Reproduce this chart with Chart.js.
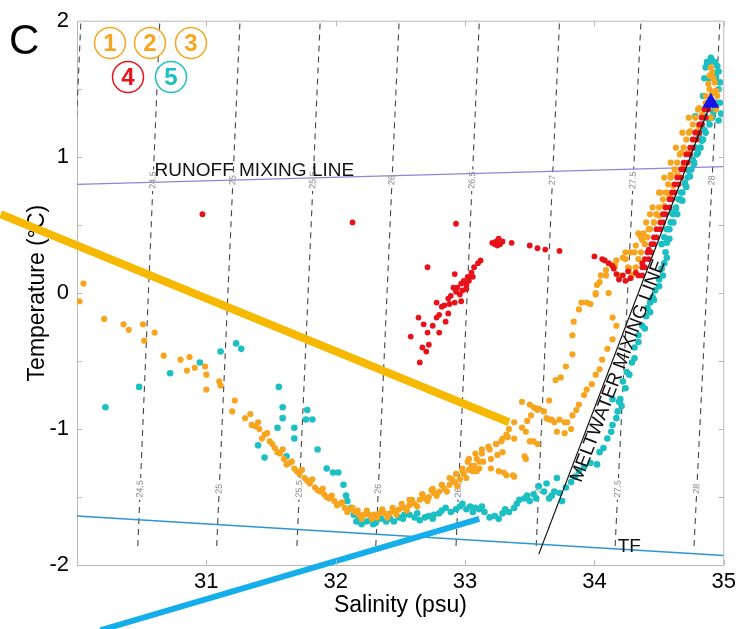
<!DOCTYPE html>
<html>
<head>
<meta charset="utf-8">
<script src="https://cdn.jsdelivr.net/npm/chart.js@4.4.1/dist/chart.umd.min.js"></script>
<style>
  html, body { margin: 0; background: #fff; }
  #wrap { width: 740px; height: 629px; }
</style>
</head>
<body>
<div id="wrap"><canvas id="tsChart"></canvas></div>
<script>
// Axis ticks
const xTicks = [30, 31, 32, 33, 34, 35];
const yTicks = [-2, -1, 0, 1, 2];

// Isopycnals (sigma-theta), salinity where each line meets the bottom / top of the grid
const sigmaLevels     = ['24', '24.5', '25', '25.5', '26', '26.5', '27', '27.5', '28'];
const sigmaSalBottom  = [29.85, 30.47, 31.08, 31.70, 32.31, 32.93, 33.55, 34.16, 34.77];
const sigmaSalTop     = [30.03, 30.64, 31.26, 31.88, 32.49, 33.11, 33.73, 34.36, 34.97];
const sigmaTempBottom = -1.86;
const sigmaTempTop    = 2;
const sigmaLabelTemps = [-1.44, 0.83];

// Reference lines [salinity, temperature]
const runoffLine    = [[30, 0.80], [35, 0.93]];
const freezingLine  = [[30, -1.64], [35, -1.93]];
const meltwaterLine = [[33.57, -1.92], [34.90, 1.40]];
const sourceWater   = [[34.90, 1.40]];

// Highlight strokes laid over the figure
const highlightOrange = [[29.41, 0.58], [33.34, -0.95]];
const highlightBlue   = [[30.18, -2.48], [33.11, -1.66]];

// Stations 1-3 (orange)
const stations123 = [
  [30.05,0.07],[30.02,-0.06],[30.21,-0.19],[30.36,-0.23],[30.40,-0.27],[30.51,-0.23],[30.52,-0.35],[30.60,-0.29],
  [30.67,-0.46],[30.80,-0.49],[30.87,-0.47],[30.85,-0.57],[30.91,-0.55],[30.99,-0.54],[31.00,-0.60],[31.00,-0.71],
  [31.10,-0.65],[31.11,-0.68],[31.22,-0.79],[31.20,-0.87],[31.30,-0.92],[31.34,-0.89],[31.35,-0.97],[31.40,-0.95],
  [31.41,-1.00],[31.45,-1.04],[31.49,-1.09],[31.53,-1.14],[31.57,-1.18],[31.60,-1.22],[31.64,-1.25],[31.68,-1.29],
  [31.72,-1.33],[31.76,-1.36],[31.80,-1.40],[31.84,-1.43],[31.88,-1.46],[31.91,-1.48],[31.95,-1.51],[31.99,-1.53],
  [32.03,-1.55],[32.07,-1.58],[32.11,-1.59],[32.15,-1.61],[32.18,-1.63],[32.22,-1.63],[32.26,-1.63],[32.30,-1.63],
  [32.34,-1.62],[32.38,-1.62],[32.42,-1.62],[32.45,-1.60],[32.49,-1.59],[32.53,-1.58],[32.57,-1.56],[32.61,-1.55],
  [32.65,-1.52],[32.69,-1.51],[32.72,-1.50],[32.76,-1.47],[32.80,-1.46],[32.84,-1.44],[32.88,-1.41],[32.92,-1.39],
  [32.96,-1.37],[32.99,-1.33],[33.03,-1.30],[33.07,-1.27],[33.11,-1.24],
  [31.38,-0.98],[31.43,-1.07],[31.47,-1.03],[31.51,-1.11],[31.55,-1.17],[31.59,-1.15],[31.62,-1.26],[31.66,-1.24],
  [31.70,-1.31],[31.74,-1.30],[31.78,-1.38],[31.82,-1.37],[31.86,-1.45],[31.90,-1.44],[31.93,-1.50],[31.97,-1.49],
  [32.01,-1.56],[32.05,-1.54],[32.09,-1.61],[32.13,-1.58],[32.17,-1.60],[32.20,-1.66],[32.24,-1.60],[32.28,-1.66],
  [32.32,-1.65],[32.36,-1.59],[32.40,-1.65],[32.44,-1.58],[32.47,-1.63],[32.51,-1.55],[32.55,-1.60],[32.59,-1.52],
  [32.63,-1.57],[32.67,-1.48],[32.71,-1.53],[32.74,-1.45],[32.78,-1.49],[32.82,-1.41],[32.86,-1.46],[32.90,-1.37],
  [32.94,-1.42],[32.98,-1.31],[33.01,-1.36],[33.05,-1.27],[33.09,-1.31],
  [32.57,-1.52],[32.67,-1.48],[32.75,-1.44],[32.82,-1.41],[32.88,-1.36],[32.93,-1.33],[32.98,-1.29],[33.02,-1.24],
  [33.09,-1.22],[33.13,-1.18],[33.19,-1.15],[33.24,-1.11],[33.28,-1.09],[33.32,-1.04],[33.34,-1.00],[33.38,-0.95],
  [33.44,-0.80],[33.50,-0.82],[33.53,-0.84],[33.56,-0.86],
  [33.57,-0.85],[33.63,-0.92],[33.67,-0.93],[33.73,-0.93],[33.77,-0.95],[33.82,-1.00],
  [33.65,-0.79],[33.70,-0.64],[33.74,-0.62],[33.78,-0.54],[33.83,-0.45],[33.83,-0.31],[33.84,-0.21],[33.88,-0.12],
  [33.90,-0.07],[33.94,-0.07],[33.97,-0.08],[34.01,-0.01],[34.02,0.06],[34.05,0.13],[34.09,0.17],[34.13,0.21],
  [34.17,0.24],[34.22,0.26],
  [34.14,-0.18],[34.17,-0.24],[34.14,-0.34],[34.10,-0.41],[34.06,-0.49],[34.04,-0.56],[34.01,-0.60],[33.98,-0.67],
  [33.94,-0.71],[33.92,-0.75],[33.88,-0.82],[33.86,-0.86],[33.83,-0.90],[33.79,-0.95],
  [33.44,-0.99],[33.48,-0.94],[33.51,-0.90],[33.55,-0.85],[33.61,-0.87],[33.65,-0.93],[33.69,-0.95],[33.50,-1.09],
  [33.53,-1.09],[33.56,-1.11],[33.71,-1.02],[33.77,-1.03],[33.38,-1.35],[33.30,-1.32],[33.47,-1.22],[33.38,-1.07],
  [33.47,-1.02],[33.51,-1.09],[33.46,-1.20],[33.37,-1.34],
  [33.03,-1.22],[33.08,-1.18],[33.13,-1.15],[33.18,-1.13],[33.24,-1.11],[33.29,-1.07],[33.33,-1.06],
  [33.06,-1.31],[33.11,-1.29],[33.14,-1.24],[33.20,-1.22],[33.25,-1.19],[33.29,-1.17],
  [33.20,-1.29],[33.26,-1.31],[33.32,-1.34],
  [34.01,0.00],[34.04,0.08],[34.09,0.13],[34.11,0.00],[34.16,0.20],[34.19,0.13],[34.24,0.25],[34.27,0.18],
  [34.32,0.35],[34.37,0.39],[34.42,0.47],[34.46,0.52],[34.50,0.57],[34.54,0.64],[34.58,0.71],[34.61,0.79],
  [34.65,0.86],[34.69,0.94],[34.73,1.03],[34.77,1.13],[34.81,1.23],[34.83,1.31],[34.86,1.40],[34.88,1.54],
  [34.91,1.62],[34.94,1.49],[34.92,1.40],[34.90,1.29],
  [34.24,0.30],[34.34,0.44],[34.43,0.58],[34.51,0.74],[34.59,0.87],[34.67,1.03],[34.74,1.19],[34.81,1.36],
  [34.28,0.30],[34.38,0.44],[34.48,0.58],[34.56,0.74],[34.64,0.87],[34.72,1.03],[34.79,1.19],
  [34.29,0.13],[34.32,0.19],[34.34,0.25],[34.36,0.30],[34.39,0.36],[34.41,0.41],[34.43,0.47],[34.46,0.52],
  [34.48,0.58],[34.50,0.63],[34.53,0.69],[34.55,0.74],[34.57,0.80],[34.59,0.85],[34.62,0.91],[34.64,0.96],
  [34.66,1.02],[34.69,1.07],[34.71,1.13],[34.73,1.18],[34.76,1.24],[34.78,1.29],[34.80,1.35],
  [34.26,0.19],[34.31,0.30],[34.36,0.41],[34.40,0.52],[34.45,0.63],[34.50,0.74],[34.54,0.85],[34.59,0.96],
  [34.63,1.07],[34.68,1.18],[34.73,1.29],
  [34.86,1.45],[34.89,1.50],[34.93,1.55],[34.90,1.66],[34.92,1.58],[34.95,1.45],[34.87,1.36],[34.94,1.35],
  [34.89,1.60],[34.91,1.47]
];

// Station 4 (red)
const station4 = [
  [30.97,0.58],[32.13,0.52],[32.93,0.51],[32.71,0.19],[32.92,0.14],[32.64,-0.18],[32.58,-0.32],[32.65,-0.51],
  [32.70,-0.43],[32.72,-0.38],[32.78,-0.07],[32.78,-0.18],[32.75,-0.24],[32.71,-0.29],[32.85,-0.21],[32.87,-0.15],
  [32.84,-0.09],[32.88,-0.08],[32.92,-0.07],[32.89,-0.02],[32.93,0.01],[32.97,-0.06],[32.94,0.04],[32.97,0.07],
  [32.99,0.09],[33.02,0.12],[33.05,0.15],[33.07,0.19],[33.10,0.22],[33.12,0.24],[32.98,0.02],[33.01,0.06],
  [33.03,0.09],[33.06,0.12],[32.96,-0.01],[33.01,0.03],[32.91,0.04],[32.87,-0.04],[32.82,-0.10],[32.80,-0.16],
  [32.68,-0.23],[32.80,-0.29],[32.67,-0.40],
  [33.21,0.37],[33.24,0.38],[33.26,0.40],[33.29,0.38],[33.25,0.35],[33.23,0.36],[33.27,0.36],[33.36,0.37],
  [33.50,0.35],[33.56,0.33],[33.62,0.32],[33.73,0.31],
  [34.00,0.27],[34.06,0.25],[34.08,0.24],[34.11,0.22],[34.14,0.20],[34.15,0.18],[34.19,0.10],[34.22,0.13],
  [34.24,0.09],[34.28,0.11],[34.32,0.15],[34.37,0.22],[34.42,0.32],[34.17,0.14],[34.26,0.16],
  [34.34,0.13],[34.37,0.19],[34.39,0.25],[34.41,0.30],[34.44,0.36],[34.46,0.41],[34.48,0.47],[34.51,0.52],
  [34.53,0.58],[34.55,0.63],[34.58,0.69],[34.60,0.74],[34.62,0.80],[34.64,0.85],[34.67,0.91],[34.69,0.96],
  [34.71,1.02],[34.74,1.07],[34.76,1.13],[34.78,1.18],[34.81,1.24],[34.83,1.29],[34.85,1.35],
  [34.37,0.13],[34.39,0.19],[34.42,0.25],[34.44,0.30],[34.46,0.36],[34.48,0.41],[34.51,0.47],[34.53,0.52],
  [34.55,0.58],[34.58,0.63],[34.60,0.69],[34.62,0.74],[34.65,0.80],[34.67,0.85],[34.69,0.91],[34.72,0.96],
  [34.74,1.02],[34.76,1.07],[34.79,1.13],[34.81,1.18],[34.83,1.24],[34.86,1.29],[34.88,1.35]
];

// Station 5 (cyan)
const station5 = [
  [30.22,-0.84],[30.48,-0.69],[30.72,-0.59],[30.95,-0.51],[31.11,-0.43],[31.23,-0.37],[31.27,-0.41],[31.56,-0.69],
  [31.59,-0.84],[31.59,-0.92],[31.55,-0.99],[31.68,-0.99],[31.68,-1.07],[31.40,-1.12],[31.45,-1.21],[31.78,-0.86],
  [31.77,-0.93],[31.82,-0.93],[31.86,-1.15],[31.62,-1.20],[31.93,-1.29],[31.98,-1.32],[32.02,-1.32],[32.06,-1.41],
  [32.08,-1.49],[32.09,-1.53],[32.12,-1.58],[32.14,-1.63],[32.16,-1.68],[32.18,-1.65],[32.24,-1.68],[32.27,-1.66],
  [32.31,-1.69],[32.35,-1.66],[32.39,-1.68],[32.42,-1.66],[32.49,-1.65],[32.53,-1.63],[32.57,-1.63],[32.61,-1.65],
  [32.65,-1.67],[32.69,-1.65],[32.72,-1.64],[32.76,-1.63],[32.80,-1.62],[32.85,-1.58],[32.89,-1.61],[32.93,-1.59],
  [32.96,-1.57],[33.01,-1.59],[33.04,-1.57],[33.08,-1.58],[33.11,-1.59],[33.15,-1.61],[33.19,-1.65],[33.23,-1.64],
  [33.29,-1.62],[33.34,-1.61],[33.38,-1.58],[33.42,-1.52],[33.46,-1.51],[33.50,-1.53],[33.53,-1.48],[33.57,-1.42],
  [33.61,-1.46],[33.65,-1.51],[33.69,-1.46],[33.71,-1.36],[33.75,-1.53],[33.78,-1.43],[33.82,-1.39],[33.85,-1.35],
  [33.88,-1.31],[33.92,-1.28],[33.97,-1.25],[34.02,-1.26],[34.04,-1.17],[34.07,-1.14],[34.10,-1.07],[34.14,-0.97],
  [34.18,-0.87],[34.20,-0.78],[34.22,-0.65],[34.25,-0.58],[34.29,-0.51],[34.14,-0.78],[34.19,-0.80],[34.31,-0.40],
  [34.34,-0.31],[34.37,-0.24],[34.40,-0.17],[34.41,-0.11],[34.43,-0.07],[34.45,-0.03],[34.47,0.02],[34.50,0.10],
  [34.52,0.18],[34.54,0.22],[34.55,0.30],[34.56,0.37],[34.58,0.47],[34.60,0.59],[34.63,0.62],[34.65,0.69],
  [34.67,0.74],[34.70,0.81],[34.73,0.90],[34.76,0.98],[34.78,1.07],[34.81,1.15],[34.83,1.24],[34.86,1.30],
  [34.78,1.30],[34.96,1.27],[34.94,1.40],[34.94,1.59],[34.91,1.71],[34.86,1.66],[34.88,1.69],[34.95,1.67],
  [34.13,-1.02],[34.17,-0.92],[34.21,-0.83],[34.24,-0.70],[34.27,-0.60],[34.31,-0.48],[34.34,-0.36],[34.39,-0.26],
  [34.43,-0.14],[34.46,-0.05],[34.50,0.05],[34.53,0.13],[34.56,0.26],[34.58,0.40],[34.61,0.52],[34.64,0.58],
  [34.68,0.68],[34.71,0.78],[34.74,0.86],[34.77,0.95],[34.80,1.03],[34.83,1.12],[34.85,1.20],[34.88,1.28],
  [34.92,1.33],[34.96,1.50],[34.93,1.62],[34.89,1.58],
  [32.20,-1.70],[32.29,-1.70],[32.45,-1.68],[32.33,-1.64],[32.52,-1.66],[32.63,-1.62],[32.75,-1.66],[32.82,-1.60],
  [32.98,-1.55],[33.06,-1.61],[33.13,-1.57],[33.26,-1.66],[33.31,-1.59],[33.40,-1.55],[33.48,-1.49],[33.55,-1.51],
  [33.63,-1.40],[33.67,-1.49],[33.73,-1.47],
  [34.52,0.36],[34.54,0.41],[34.56,0.47],[34.59,0.52],[34.61,0.58],[34.63,0.63],[34.66,0.69],[34.68,0.74],
  [34.70,0.80],[34.72,0.85],[34.75,0.91],[34.77,0.96],[34.79,1.02],[34.82,1.07],[34.84,1.13],[34.86,1.18],
  [34.89,1.24],[34.91,1.29],[34.93,1.35],[34.97,1.40],[34.97,1.55],[34.96,1.63],[34.90,1.73],[34.93,1.70],
  [34.87,1.70],[34.85,1.58],[34.84,1.45],[34.98,1.32]
];

const ORANGE = '#f7a51e';
const RED    = '#e8121b';
const CYAN   = '#1dc0c2';
const FONT   = '"Liberation Sans", Arial, sans-serif';

const pts = arr => arr.map(([x, y]) => ({ x, y }));

const datasets = [];

sigmaLevels.forEach((s, i) => {
  datasets.push({
    label: 'sigma ' + s, sigma: s, showLine: true, order: 10,
    data: pts([[sigmaSalBottom[i], sigmaTempBottom], [sigmaSalTop[i], sigmaTempTop]]),
    borderColor: '#444', borderWidth: 1.1, borderDash: [6, 5], pointRadius: 0
  });
});

datasets.push(
  { label: 'Runoff mixing line', data: pts(runoffLine), showLine: true, order: 8,
    borderColor: '#8b86d6', borderWidth: 1.2, pointRadius: 0 },
  { label: 'Freezing temperature', data: pts(freezingLine), showLine: true, order: 8,
    borderColor: '#2b96d6', borderWidth: 1.5, pointRadius: 0 },
  { label: 'Stn 5', data: pts(station5), order: 7,
    backgroundColor: CYAN, borderWidth: 0, pointRadius: 3.3 },
  { label: 'Stn 1-3', data: pts(stations123), order: 6,
    backgroundColor: ORANGE, borderWidth: 0, pointRadius: 3.1 },
  { label: 'Stn 4', data: pts(station4), order: 5,
    backgroundColor: RED, borderWidth: 0, pointRadius: 2.9 },
  { label: 'Meltwater mixing line', data: pts(meltwaterLine), showLine: true, order: 4,
    borderColor: '#111', borderWidth: 1.2, pointRadius: 0 },
  { label: 'Source water', data: pts(sourceWater), order: 3,
    pointStyle: 'triangle', pointRadius: 10, backgroundColor: '#1414e6', borderWidth: 0 },
  { label: 'highlight orange', data: pts(highlightOrange), showLine: true, order: 1, clip: false,
    borderColor: '#f6b800', borderWidth: 8, pointRadius: 0 },
  { label: 'highlight blue', data: pts(highlightBlue), showLine: true, order: 1, clip: false,
    borderColor: '#14aeea', borderWidth: 6, pointRadius: 0 }
);

const annotate = {
  id: 'annotate',
  beforeDraw(chart) {
    const ctx = chart.ctx;
    ctx.save();
    ctx.fillStyle = '#fff';
    ctx.fillRect(0, 0, chart.width, chart.height);
    ctx.restore();
  },
  afterDatasetDraw(chart, args) {
    const ds = chart.data.datasets[args.index];
    if (!ds.sigma) return;
    const { ctx, chartArea: a } = chart;
    const sx = chart.scales.x, sy = chart.scales.y;
    const i = sigmaLevels.indexOf(ds.sigma);
    const x0 = sx.getPixelForValue(sigmaSalBottom[i]), y0 = sy.getPixelForValue(sigmaTempBottom);
    const x1 = sx.getPixelForValue(sigmaSalTop[i]),    y1 = sy.getPixelForValue(sigmaTempTop);
    const ang = Math.atan2(y1 - y0, x1 - x0);
    sigmaLabelTemps.forEach(t => {
      const py = sy.getPixelForValue(t);
      const px = x0 + (x1 - x0) * (py - y0) / (y1 - y0);
      if (px < a.left + 6 || px > a.right - 6) return;
      ctx.save();
      ctx.translate(px, py);
      ctx.rotate(ang);
      ctx.font = '9px ' + FONT;
      const w = ctx.measureText(ds.sigma).width;
      ctx.fillStyle = '#fff';
      ctx.fillRect(-w / 2 - 2, -5, w + 4, 10);
      ctx.fillStyle = '#888';
      ctx.textAlign = 'center';
      ctx.textBaseline = 'middle';
      ctx.fillText(ds.sigma, 0, 0);
      ctx.restore();
    });
  },
  afterDraw(chart) {
    const { ctx, chartArea: a } = chart;
    const sx = chart.scales.x, sy = chart.scales.y;

    // frame and inward ticks
    ctx.save();
    ctx.strokeStyle = '#b8b8b8';
    ctx.lineWidth = 1;
    ctx.beginPath();
    ctx.moveTo(a.left, a.top); ctx.lineTo(a.right, a.top); ctx.lineTo(a.right, a.bottom);
    for (let t = -1.5; t < 2; t += 0.5) {
      const py = Math.round(sy.getPixelForValue(t)) + 0.5;
      ctx.moveTo(a.left, py); ctx.lineTo(a.left + 5, py);
      ctx.moveTo(a.right, py); ctx.lineTo(a.right - 5, py);
    }
    xTicks.forEach(v => {
      const px = Math.round(sx.getPixelForValue(v)) + 0.5;
      ctx.moveTo(px, a.bottom); ctx.lineTo(px, a.bottom - 5);
      ctx.moveTo(px, a.top); ctx.lineTo(px, a.top + 5);
    });
    ctx.stroke();
    ctx.restore();

    ctx.save();
    ctx.fillStyle = '#111';
    ctx.font = '19px ' + FONT;
    ctx.textBaseline = 'alphabetic';
    ctx.fillText('RUNOFF MIXING LINE', sx.getPixelForValue(30.60), sy.getPixelForValue(0.862));
    ctx.fillText('TF', sx.getPixelForValue(34.18), sy.getPixelForValue(-1.905));

    // meltwater label follows the line
    const mx0 = sx.getPixelForValue(meltwaterLine[0][0]), my0 = sy.getPixelForValue(meltwaterLine[0][1]);
    const mx1 = sx.getPixelForValue(meltwaterLine[1][0]), my1 = sy.getPixelForValue(meltwaterLine[1][1]);
    const ang = Math.atan2(my1 - my0, mx1 - mx0);
    const cy = sy.getPixelForValue(-0.55);
    const cx = mx0 + (mx1 - mx0) * (cy - my0) / (my1 - my0);
    ctx.translate(cx - Math.sin(ang) * 9, cy + Math.cos(ang) * 9);
    ctx.rotate(ang);
    ctx.textAlign = 'center';
    ctx.textBaseline = 'middle';
    ctx.fillText('MELTWATER MIXING LINE', 0, 0);
    ctx.restore();

    // panel letter
    ctx.save();
    ctx.fillStyle = '#000';
    ctx.font = '42px ' + FONT;
    ctx.textBaseline = 'alphabetic';
    ctx.fillText('C', 9, 54);
    ctx.restore();

    // station key
    const key = [
      ['1', ORANGE, 110, 43], ['2', ORANGE, 150, 43], ['3', ORANGE, 191, 43],
      ['4', RED, 128, 77], ['5', CYAN, 171, 77]
    ];
    ctx.save();
    key.forEach(([n, c, x, y]) => {
      ctx.beginPath();
      ctx.arc(x, y, 15.5, 0, Math.PI * 2);
      ctx.fillStyle = 'rgba(255,255,255,0.85)';
      ctx.fill();
      ctx.strokeStyle = c;
      ctx.lineWidth = 1.5;
      ctx.stroke();
      ctx.fillStyle = c;
      ctx.font = 'bold 24px ' + FONT;
      ctx.textAlign = 'center';
      ctx.textBaseline = 'middle';
      ctx.fillText(n, x, y + 1);
    });
    ctx.restore();
  }
};

new Chart(document.getElementById('tsChart'), {
  type: 'scatter',
  data: { datasets },
  options: {
    responsive: true,
    maintainAspectRatio: false,
    animation: false,
    events: [],
    layout: { padding: { top: 17, right: 15, left: 0, bottom: 0 } },
    plugins: { legend: { display: false }, tooltip: { enabled: false } },
    scales: {
      x: {
        type: 'linear', min: 30, max: 35,
        afterFit: s => { s.height = 64; },
        afterBuildTicks: s => { s.ticks = xTicks.map(v => ({ value: v })); },
        grid: { display: false, drawTicks: false },
        border: { display: true, color: '#b8b8b8' },
        ticks: { color: '#000', font: { family: FONT, size: 22 }, padding: 4,
                 callback: v => (v === 30 ? '' : v) },
        title: { display: true, text: 'Salinity (psu)', color: '#000',
                 font: { family: FONT, size: 23 }, padding: { top: 0, bottom: 10 } }
      },
      y: {
        type: 'linear', min: -2, max: 2,
        afterFit: s => { s.width = 77; },
        afterBuildTicks: s => { s.ticks = yTicks.map(v => ({ value: v })); },
        grid: { display: false, drawTicks: false },
        border: { display: true, color: '#b8b8b8' },
        ticks: { color: '#000', font: { family: FONT, size: 22 }, padding: 8 },
        title: { display: true, text: 'Temperature (°C)', color: '#000',
                 font: { family: FONT, size: 23 }, padding: { top: 24, bottom: 0 } }
      }
    }
  },
  plugins: [annotate]
});
</script>
</body>
</html>
